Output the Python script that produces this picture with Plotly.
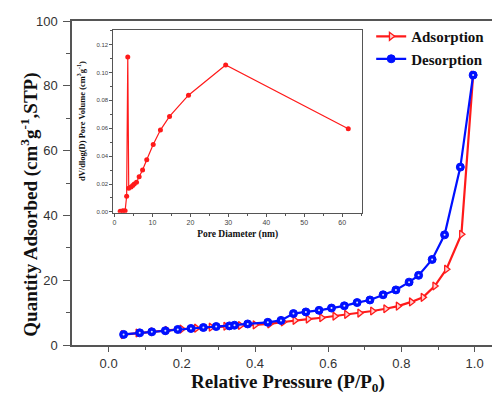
import plotly.graph_objects as go

# Main isotherm data
ads_p = [0.04, 0.08, 0.12, 0.16, 0.20, 0.24, 0.28, 0.32, 0.36, 0.40, 0.44, 0.477, 0.509, 0.545,
         0.582, 0.618, 0.650, 0.686, 0.721, 0.757, 0.791, 0.827, 0.859, 0.891, 0.923, 0.964, 0.996]
ads_q = [3.2, 3.7, 4.1, 4.5, 4.9, 5.2, 5.5, 5.8, 6.0, 6.2, 6.5, 7.1, 7.6, 8.0,
         8.4, 8.9, 9.45, 9.85, 10.5, 11.2, 12.0, 13.3, 14.7, 18.2, 23.4, 34.2, 83.3]

des_p = [0.996, 0.961, 0.918, 0.884, 0.847, 0.821, 0.785, 0.750, 0.714, 0.679, 0.644, 0.609,
         0.575, 0.539, 0.505, 0.471, 0.435, 0.380, 0.344, 0.330, 0.294, 0.259, 0.225, 0.189,
         0.155, 0.118, 0.085, 0.041]
des_q = [83.3, 54.9, 34.0, 26.4, 21.5, 19.4, 17.0, 15.5, 13.9, 13.1, 12.1, 11.4,
         10.7, 10.2, 9.7, 7.6, 7.0, 6.5, 6.1, 5.9, 5.7, 5.4, 5.1, 4.8,
         4.4, 4.06, 3.75, 3.26]

# Inset pore size distribution
pore_d = [1.5, 2.2, 2.8, 3.2, 3.5, 3.75, 4.35, 4.8, 5.2, 5.8, 6.5, 7.4, 8.5, 10.2, 12.1,
          14.5, 19.5, 29.3, 61.6]
pore_v = [0.0005, 0.0008, 0.0008, 0.0112, 0.111, 0.017, 0.0178, 0.019, 0.020, 0.0213,
          0.0253, 0.030, 0.0374, 0.0484, 0.0587, 0.0685, 0.0837, 0.1053, 0.0596]

RED = "#ff1a1a"
BLUE = "#0010ff"
SERIF = "Liberation Serif"
SANS = "Liberation Sans"

fig = go.Figure()

fig.add_trace(go.Scatter(
    x=ads_p, y=ads_q, mode="lines+markers", name="<b>Adsorption</b>",
    line=dict(color=RED, width=2.2),
    marker=dict(symbol="triangle-right", size=7, color="#ffd0d0",
                line=dict(color=RED, width=1.3)),
))
fig.add_trace(go.Scatter(
    x=des_p, y=des_q, mode="lines+markers", name="<b>Desorption</b>",
    line=dict(color=BLUE, width=2.2),
    marker=dict(symbol="circle", size=8, color=BLUE, line=dict(color=BLUE, width=1)),
))
fig.add_trace(go.Scatter(
    x=des_p, y=des_q, mode="markers", showlegend=False, hoverinfo="skip",
    marker=dict(symbol="circle", size=2, color="#dde6ff"),
))

fig.add_trace(go.Scatter(
    x=pore_d, y=pore_v, mode="lines+markers", showlegend=False,
    xaxis="x2", yaxis="y2",
    line=dict(color=RED, width=1.2),
    marker=dict(symbol="circle", size=5, color=RED),
))

axis_line = "#555555"
fig.update_layout(
    width=492, height=392,
    margin=dict(l=64, r=6, t=9, b=55),
    paper_bgcolor="white", plot_bgcolor="white",
    showlegend=True,
    legend=dict(x=0.709, y=1.003, xanchor="left", yanchor="top",
                bgcolor="rgba(0,0,0,0)", itemwidth=30, tracegroupgap=0,
                font=dict(family=SERIF, size=15, color="#111111"),
                traceorder="normal"),
    xaxis=dict(
        range=[-0.1, 1.053], domain=[0, 1],
        tickvals=[0, 0.2, 0.4, 0.6, 0.8, 1.0],
        ticktext=["0.0", "0.2", "0.4", "0.6", "0.8", "1.0"],
        ticks="outside", ticklen=5, tickcolor=axis_line, tickwidth=1,
        minor=dict(tickvals=[0.1, 0.3, 0.5, 0.7, 0.9], ticks="outside", ticklen=3,
                   tickcolor=axis_line),
        showline=True, linecolor=axis_line, linewidth=1.5, mirror=True,
        showgrid=False, zeroline=False,
        tickfont=dict(family=SANS, size=13, color="#333333"),
        ticklabelstandoff=1,
    ),
    yaxis=dict(
        range=[0, 100], domain=[0, 1],
        tickvals=[0, 20, 40, 60, 80, 100],
        ticks="outside", ticklen=7, tickcolor=axis_line, tickwidth=1,
        minor=dict(tickvals=[10, 30, 50, 70, 90], ticks="outside", ticklen=4,
                   tickcolor=axis_line),
        showline=True, linecolor=axis_line, linewidth=1.5, mirror=False,
        showgrid=False, zeroline=False,
        tickfont=dict(family=SANS, size=13, color="#333333"),
        ticklabelstandoff=3,
    ),
    xaxis2=dict(
        anchor="y2", domain=[0.098, 0.687],
        range=[-0.3, 65.2],
        tickvals=[0, 10, 20, 30, 40, 50, 60],
        ticks="outside", ticklen=3, tickcolor=axis_line,
        minor=dict(tickvals=[5, 15, 25, 35, 45, 55, 65], ticks="outside", ticklen=2,
                   tickcolor=axis_line),
        showline=True, linecolor=axis_line, linewidth=1, mirror=True,
        showgrid=False, zeroline=False,
        tickfont=dict(family=SANS, size=7, color="#444444"),
        title=dict(text="<b>Pore Diameter (nm)</b>",
                   font=dict(family=SERIF, size=9.5, color="#111111"), standoff=5),
    ),
    yaxis2=dict(
        anchor="x2", domain=[0.4085, 0.9735],
        range=[-0.0005, 0.1307],
        tickvals=[0, 0.02, 0.04, 0.06, 0.08, 0.10, 0.12],
        ticktext=["0.00", "0.02", "0.04", "0.06", "0.08", "0.10", "0.12"],
        ticks="outside", ticklen=3, tickcolor=axis_line,
        minor=dict(tickvals=[0.01, 0.03, 0.05, 0.07, 0.09, 0.11, 0.13], ticks="outside",
                   ticklen=2, tickcolor=axis_line),
        showline=True, linecolor=axis_line, linewidth=1, mirror=True,
        showgrid=False, zeroline=False,
        tickfont=dict(family=SANS, size=6, color="#444444"),
        title=dict(text="<b>dV/dlog(D) Pore Volume (cm<sup>3</sup>g<sup>-1</sup>)</b>",
                   font=dict(family=SERIF, size=8.5, color="#111111"), standoff=9),
    ),
    annotations=[
        dict(text="<b>Relative Pressure (P/P<sub>0</sub>)</b>", xref="paper", yref="paper",
             x=0.512, y=-0.117, xanchor="center", yanchor="middle", showarrow=False,
             font=dict(family=SERIF, size=19, color="#111111")),
        dict(text="<b>Quantity Adsorbed (cm<sup>3</sup>g<sup>-1</sup>,STP)</b>", xref="paper",
             yref="paper", x=-0.0995, y=0.433, xanchor="center", yanchor="middle",
             textangle=-90, showarrow=False,
             font=dict(family=SERIF, size=19, color="#111111")),
    ],
)

fig.write_html("out.html")
